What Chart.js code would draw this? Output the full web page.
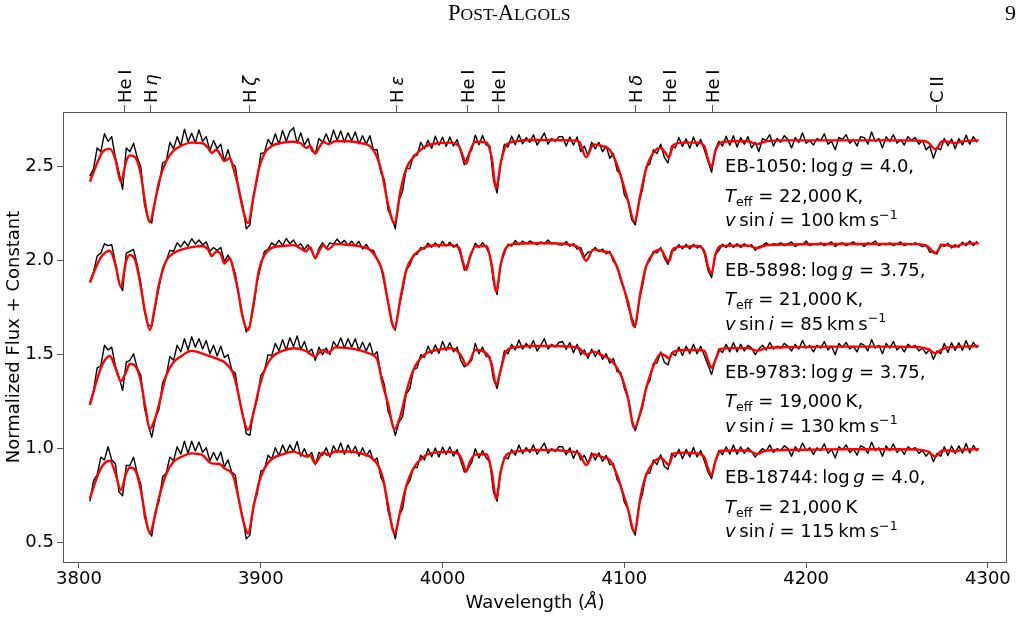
<!DOCTYPE html>
<html><head><meta charset="utf-8">
<script src="https://cdn.jsdelivr.net/npm/chart.js@4.4.1/dist/chart.umd.min.js"></script>
<style>html,body{margin:0;padding:0;background:#fff}canvas{display:block}</style>
</head><body>
<canvas id="c" width="1027" height="641"></canvas>
<script>
// ---------------- data ----------------
const WAVE_OBS = [
3806,3808,3810,3812,3814,3816,3818,3820,3822,3824,
3826,3828,3830,3832,3834,3836,3838,3840,3842,3844,
3846,3848,3850,3852,3854,3856,3858,3860,3862,3864,
3866,3868,3870,3872,3874,3876,3878,3880,3882,3884,
3886,3888,3890,3892,3894,3896,3898,3900,3902,3904,
3906,3908,3910,3912,3914,3916,3918,3920,3922,3924,
3926,3928,3930,3932,3934,3936,3938,3940,3942,3944,
3946,3948,3950,3952,3954,3956,3958,3960,3962,3964,
3966,3968,3970,3972,3974,3976,3978,3980,3982,3984,
3986,3988,3990,3992,3994,3996,3998,4000,4002,4004,
4006,4008,4010,4012,4014,4016,4018,4020,4022,4024,
4026,4028,4030,4032,4034,4036,4038,4040,4042,4044,
4046,4048,4050,4052,4054,4056,4058,4060,4062,4064,
4066,4068,4070,4072,4074,4076,4078,4080,4082,4084,
4086,4088,4090,4092,4094,4096,4098,4100,4102,4104,
4106,4108,4110,4112,4114,4116,4118,4120,4122,4124,
4126,4128,4130,4132,4134,4136,4138,4140,4142,4144,
4146,4148,4150,4152,4154,4156,4158,4160,4162,4164,
4166,4168,4170,4172,4174,4176,4178,4180,4182,4184,
4186,4188,4190,4192,4194,4196,4198,4200,4202,4204,
4206,4208,4210,4212,4214,4216,4218,4220,4222,4224,
4226,4228,4230,4232,4234,4236,4238,4240,4242,4244,
4246,4248,4250,4252,4254,4256,4258,4260,4262,4264,
4266,4268,4270,4272,4274,4276,4278,4280,4282,4284,
4286,4288,4290,4292,4294];

const OBS_EB1050 = [
2.45,2.49,2.60,2.58,2.675,2.635,2.66,2.55,2.47,2.38,
2.60,2.58,2.625,2.55,2.50,2.30,2.22,2.20,2.33,2.40,
2.52,2.53,2.63,2.595,2.66,2.61,2.70,2.633,2.678,2.627,
2.696,2.635,2.66,2.585,2.64,2.595,2.62,2.53,2.59,2.52,
2.50,2.37,2.30,2.17,2.19,2.35,2.43,2.57,2.575,2.645,
2.615,2.675,2.62,2.693,2.635,2.687,2.708,2.625,2.68,2.615,
2.65,2.585,2.57,2.65,2.63,2.675,2.625,2.695,2.64,2.69,
2.63,2.68,2.638,2.685,2.622,2.665,2.62,2.665,2.59,2.59,
2.47,2.43,2.27,2.23,2.17,2.32,2.37,2.49,2.49,2.56,
2.56,2.63,2.595,2.64,2.597,2.662,2.615,2.657,2.608,2.658,
2.61,2.644,2.58,2.51,2.56,2.59,2.668,2.617,2.666,2.615,
2.61,2.43,2.36,2.52,2.62,2.605,2.662,2.617,2.67,2.622,
2.655,2.63,2.67,2.615,2.645,2.68,2.62,2.65,2.635,2.66,
2.66,2.61,2.658,2.615,2.658,2.58,2.61,2.56,2.63,2.595,
2.63,2.58,2.61,2.545,2.57,2.48,2.46,2.35,2.32,2.22,
2.19,2.31,2.38,2.50,2.515,2.59,2.57,2.62,2.55,2.52,
2.61,2.60,2.655,2.608,2.648,2.598,2.658,2.608,2.645,2.59,
2.53,2.47,2.59,2.635,2.61,2.662,2.614,2.665,2.605,2.655,
2.62,2.66,2.60,2.63,2.58,2.65,2.64,2.67,2.61,2.65,
2.63,2.665,2.645,2.60,2.655,2.63,2.68,2.625,2.64,2.615,
2.65,2.64,2.675,2.62,2.635,2.59,2.655,2.645,2.67,2.625,
2.645,2.61,2.66,2.655,2.62,2.685,2.635,2.65,2.60,2.66,
2.635,2.67,2.625,2.645,2.615,2.66,2.64,2.655,2.62,2.64,
2.59,2.61,2.545,2.60,2.59,2.65,2.612,2.648,2.595,2.65,
2.615,2.668,2.62,2.66,2.63];

const OBS_EB5898 = [
1.89,1.94,2.025,2.04,2.09,2.08,2.085,1.99,1.88,1.84,
2.04,2.05,2.06,1.98,1.88,1.73,1.66,1.65,1.76,1.86,
1.96,2.00,2.055,2.05,2.095,2.073,2.103,2.078,2.117,2.089,
2.11,2.085,2.10,2.05,2.07,2.055,2.07,1.995,2.03,1.99,
1.93,1.81,1.71,1.62,1.655,1.75,1.89,1.97,2.05,2.06,
2.095,2.08,2.108,2.081,2.118,2.09,2.11,2.077,2.09,2.06,
2.085,2.05,2.01,2.065,2.095,2.065,2.095,2.088,2.115,2.09,
2.108,2.081,2.103,2.08,2.102,2.062,2.086,2.058,2.055,2.005,
1.975,1.875,1.78,1.67,1.63,1.75,1.84,1.95,1.975,2.03,
2.035,2.07,2.062,2.093,2.072,2.095,2.072,2.103,2.078,2.098,
2.072,2.087,2.03,1.95,1.985,2.04,2.093,2.07,2.096,2.072,
2.03,1.89,1.82,1.985,2.04,2.088,2.078,2.108,2.085,2.105,
2.09,2.105,2.095,2.085,2.10,2.09,2.11,2.09,2.095,2.085,
2.083,2.102,2.077,2.09,2.062,2.07,2.02,2.045,2.048,2.07,
2.048,2.062,2.036,2.05,1.995,1.975,1.895,1.845,1.76,1.70,
1.645,1.78,1.865,1.975,2.00,2.05,2.042,2.07,2.015,1.98,
2.055,2.057,2.085,2.063,2.087,2.062,2.087,2.067,2.08,2.04,
1.95,1.91,2.03,2.055,2.088,2.07,2.095,2.07,2.09,2.07,
2.09,2.075,2.085,2.055,2.075,2.08,2.095,2.08,2.09,2.085,
2.095,2.08,2.09,2.10,2.075,2.09,2.085,2.105,2.08,2.09,
2.085,2.095,2.08,2.09,2.10,2.075,2.09,2.095,2.08,2.09,
2.10,2.085,2.09,2.075,2.095,2.09,2.105,2.08,2.09,2.085,
2.095,2.08,2.09,2.10,2.08,2.09,2.085,2.095,2.085,2.075,
2.085,2.045,2.05,2.035,2.088,2.075,2.092,2.068,2.085,2.072,
2.098,2.08,2.105,2.08,2.103];

const OBS_EB9783 = [
1.24,1.31,1.43,1.44,1.55,1.525,1.54,1.44,1.38,1.31,
1.46,1.47,1.505,1.43,1.39,1.22,1.13,1.06,1.16,1.21,
1.35,1.39,1.49,1.47,1.55,1.515,1.585,1.525,1.595,1.54,
1.585,1.53,1.575,1.505,1.55,1.493,1.545,1.485,1.50,1.42,
1.40,1.27,1.19,1.08,1.07,1.20,1.26,1.39,1.415,1.50,
1.495,1.56,1.52,1.58,1.525,1.59,1.544,1.60,1.527,1.57,
1.51,1.53,1.47,1.54,1.50,1.535,1.50,1.57,1.54,1.59,
1.535,1.585,1.54,1.585,1.522,1.566,1.52,1.563,1.495,1.515,
1.40,1.34,1.20,1.15,1.07,1.14,1.17,1.29,1.32,1.42,
1.43,1.50,1.485,1.545,1.505,1.552,1.507,1.57,1.522,1.564,
1.515,1.54,1.47,1.435,1.45,1.47,1.56,1.505,1.54,1.49,
1.49,1.37,1.32,1.42,1.52,1.505,1.555,1.525,1.578,1.53,
1.56,1.535,1.575,1.52,1.55,1.585,1.53,1.555,1.54,1.565,
1.57,1.528,1.565,1.51,1.555,1.50,1.525,1.48,1.53,1.49,
1.525,1.475,1.505,1.455,1.48,1.41,1.405,1.32,1.27,1.16,
1.095,1.16,1.22,1.33,1.36,1.455,1.455,1.515,1.46,1.445,
1.51,1.495,1.54,1.495,1.545,1.505,1.555,1.505,1.545,1.495,
1.445,1.395,1.47,1.53,1.512,1.555,1.515,1.565,1.515,1.555,
1.52,1.55,1.535,1.50,1.53,1.55,1.525,1.565,1.53,1.545,
1.535,1.56,1.545,1.52,1.555,1.53,1.575,1.535,1.55,1.515,
1.55,1.535,1.57,1.525,1.545,1.50,1.56,1.54,1.565,1.53,
1.545,1.515,1.56,1.55,1.52,1.58,1.535,1.55,1.505,1.56,
1.535,1.57,1.525,1.545,1.515,1.555,1.54,1.55,1.52,1.535,
1.505,1.53,1.475,1.52,1.505,1.56,1.512,1.563,1.523,1.563,
1.524,1.575,1.526,1.566,1.536];

const OBS_EB18744 = [
0.72,0.83,0.86,0.955,0.94,1.01,0.94,0.92,0.77,0.75,
0.91,0.91,0.955,0.87,0.81,0.64,0.57,0.535,0.665,0.72,
0.85,0.87,0.955,0.935,1.01,0.97,1.04,0.975,1.04,0.988,
1.035,0.98,1.005,0.935,0.98,0.938,0.982,0.903,0.94,0.875,
0.86,0.72,0.64,0.52,0.54,0.70,0.76,0.88,0.89,0.965,
0.945,1.005,0.962,1.02,0.975,1.02,0.984,1.038,0.96,1.00,
0.955,0.98,0.915,0.98,0.965,1.005,0.955,1.015,0.98,1.03,
0.97,1.02,0.977,1.013,0.96,1.005,0.96,0.992,0.935,0.95,
0.85,0.81,0.67,0.60,0.52,0.64,0.68,0.80,0.83,0.90,
0.90,0.965,0.94,1.00,0.957,1.003,0.956,1.008,0.969,1.01,
0.96,0.995,0.935,0.875,0.895,0.925,1.00,0.95,0.99,0.95,
0.93,0.77,0.72,0.88,0.955,0.945,0.995,0.965,1.02,0.973,
1.005,0.98,1.02,0.97,1.00,1.03,0.975,1.00,0.985,1.01,
1.01,0.967,1.004,0.948,0.992,0.94,0.965,0.92,0.978,0.94,
0.978,0.932,0.965,0.915,0.92,0.835,0.805,0.715,0.68,0.58,
0.54,0.70,0.76,0.87,0.87,0.94,0.915,0.968,0.905,0.89,
0.975,0.956,0.997,0.946,0.996,0.956,1.006,0.956,0.99,0.935,
0.875,0.84,0.935,0.99,0.969,1.01,0.97,1.02,0.97,1.01,
0.975,1.005,0.985,0.955,0.98,1.00,0.985,1.02,0.98,1.00,
0.99,1.015,1.00,0.96,1.01,0.985,1.03,0.99,1.005,0.97,
1.005,0.99,1.025,0.975,0.995,0.95,1.01,0.995,1.02,0.98,
1.00,0.965,1.015,1.005,0.975,1.035,0.99,1.005,0.96,1.015,
0.99,1.025,0.98,1.00,0.97,1.01,0.995,1.005,0.975,0.99,
0.96,0.985,0.93,0.975,0.96,1.01,0.963,1.014,0.974,1.015,
0.976,1.027,0.977,1.017,0.987];

const WAVE_MODEL = [
3806,3810,3813,3817,3820,3823,3826,3828,3831,3834,
3836.5,3839,3841.5,3844,3848,3852,3856,3862,3868,3871,
3873,3875.5,3878,3880,3883,3885,3887.5,3890,3893,3896,
3899,3902,3906,3912,3918,3922,3925,3927,3930,3932,
3934.5,3937,3941,3948,3955,3960,3964,3967,3970,3973.5,
3977,3980,3984,3990,3997,4004,4009,4011,4013,4015,
4018,4024,4027,4029.5,4032,4035,4040,4050,4060,4070,
4075,4079,4083,4088,4092,4096,4099,4102,4105.5,4109,
4112,4116,4120,4122.5,4124.5,4127,4133,4140,4144,4146,
4148,4150,4153,4160,4168,4173,4178,4190,4210,4230,
4250,4262,4267,4271,4275,4279,4282,4286,4295];

const MODEL_EB1050 = [
2.42,2.52,2.58,2.595,2.54,2.42,2.53,2.56,2.55,2.46,
2.30,2.205,2.30,2.42,2.53,2.585,2.61,2.628,2.625,2.60,
2.573,2.59,2.56,2.53,2.546,2.49,2.40,2.28,2.20,2.34,
2.49,2.57,2.61,2.628,2.633,2.625,2.60,2.61,2.57,2.60,
2.633,2.62,2.635,2.635,2.625,2.61,2.55,2.45,2.30,2.20,
2.38,2.49,2.55,2.605,2.625,2.628,2.61,2.56,2.515,2.58,
2.633,2.63,2.55,2.385,2.52,2.615,2.635,2.642,2.642,2.64,
2.635,2.55,2.618,2.61,2.589,2.51,2.42,2.32,2.207,2.36,
2.49,2.575,2.60,2.575,2.55,2.615,2.628,2.628,2.61,2.54,
2.50,2.58,2.628,2.635,2.635,2.62,2.635,2.64,2.64,2.64,
2.64,2.638,2.63,2.593,2.635,2.632,2.625,2.635,2.64];

const MODEL_EB5898 = [
1.883,1.98,2.03,2.053,1.98,1.862,2.00,2.03,2.00,1.86,
1.72,1.631,1.74,1.875,2.00,2.04,2.058,2.072,2.078,2.06,
2.025,2.048,2.035,1.985,2.013,1.95,1.84,1.70,1.631,1.77,
1.95,2.03,2.068,2.078,2.083,2.065,2.05,2.073,2.015,2.05,
2.083,2.06,2.088,2.085,2.075,2.058,2.01,1.94,1.78,1.64,
1.81,1.95,2.025,2.07,2.082,2.083,2.07,2.00,1.95,2.02,
2.075,2.078,1.98,1.836,1.98,2.07,2.09,2.093,2.093,2.085,
2.068,2.00,2.06,2.05,2.04,1.965,1.875,1.78,1.649,1.84,
1.97,2.04,2.06,2.02,1.995,2.065,2.075,2.078,2.05,1.97,
1.933,2.03,2.078,2.08,2.08,2.066,2.082,2.086,2.089,2.089,
2.089,2.088,2.075,2.04,2.085,2.08,2.075,2.088,2.093];

const MODEL_EB9783 = [
1.232,1.37,1.45,1.493,1.43,1.36,1.41,1.452,1.44,1.36,
1.22,1.105,1.15,1.235,1.39,1.46,1.49,1.52,1.506,1.495,
1.488,1.48,1.47,1.46,1.43,1.395,1.30,1.18,1.10,1.19,
1.32,1.415,1.485,1.52,1.534,1.528,1.518,1.505,1.489,1.51,
1.525,1.51,1.539,1.535,1.522,1.505,1.475,1.345,1.24,1.105,
1.18,1.30,1.42,1.50,1.525,1.534,1.51,1.48,1.445,1.465,
1.525,1.508,1.45,1.34,1.42,1.52,1.54,1.546,1.546,1.543,
1.535,1.50,1.516,1.495,1.475,1.43,1.37,1.27,1.11,1.20,
1.32,1.44,1.505,1.495,1.48,1.515,1.525,1.525,1.52,1.47,
1.43,1.47,1.53,1.535,1.535,1.521,1.535,1.54,1.543,1.543,
1.543,1.54,1.53,1.508,1.53,1.54,1.54,1.543,1.546];

const MODEL_EB18744 = [
0.736,0.85,0.91,0.936,0.87,0.78,0.87,0.90,0.885,0.78,
0.64,0.55,0.63,0.74,0.865,0.93,0.955,0.975,0.966,0.935,
0.922,0.92,0.915,0.895,0.88,0.85,0.75,0.63,0.55,0.69,
0.82,0.895,0.945,0.97,0.984,0.97,0.958,0.966,0.922,0.95,
0.98,0.966,0.985,0.985,0.975,0.958,0.92,0.85,0.70,0.55,
0.68,0.80,0.895,0.96,0.98,0.982,0.97,0.93,0.878,0.93,
0.968,0.97,0.88,0.736,0.88,0.965,0.984,0.993,0.993,0.985,
0.975,0.913,0.97,0.955,0.94,0.86,0.77,0.68,0.559,0.75,
0.86,0.925,0.952,0.93,0.913,0.975,0.978,0.975,0.955,0.895,
0.86,0.93,0.989,0.99,0.99,0.972,0.99,0.993,0.996,0.997,
0.997,0.995,0.985,0.958,0.99,0.99,0.985,0.995,0.997];

const LINE_WAVES = [3824.8,3839.5,3893.6,3974.7,4013.5,4030.6,4106.0,4124.6,4148.4,4271.9];
const LINE_ELEMENT = ['He','H','H','H','He','He','H','He','He','C'];
const LINE_SUFFIX = ['I','\u03B7','\u03B6','\u03B5','I','I','\u03B4','I','I','II'];
const LINE_SUFFIX_ITALIC = [false,true,true,true,false,false,true,false,false,false];
const X_TICKS = [3800,3900,4000,4100,4200,4300];
const Y_TICKS = [0.5,1.0,1.5,2.0,2.5];

const STAR_NAMES = ['EB-1050','EB-5898','EB-9783','EB-18744'];
const LOGG = ['4.0','3.75','3.75','4.0'];
const TEFF = ['22,000','21,000','19,000','21,000'];
const TEFF_END = [',',',',',',''];
const VSINI = ['100','85','130','115'];

// ---------------- layout / style ----------------
const FONT = "'DejaVu Sans', sans-serif";
const AXIS_COLOR = '#555';
const X_MIN = 3791.2, X_MAX = 4310.5, Y_MIN = 0.397, Y_MAX = 2.791;
const ANNOT_X = 4155.4;
const ANNOT_Y = [2.470, 1.919, 1.378, 0.816];
const ANNOT_LINE_DY = [0, 29.5, 54];

function pts(xs, ys) { return xs.map((x, i) => ({ x: x, y: ys[i] })); }

const OBS = [OBS_EB1050, OBS_EB5898, OBS_EB9783, OBS_EB18744];
const MODELS = [MODEL_EB1050, MODEL_EB5898, MODEL_EB9783, MODEL_EB18744];
const datasets = [];
for (let i = 0; i < 4; i++) {
  datasets.push({ label: STAR_NAMES[i] + ' observed', data: pts(WAVE_OBS, OBS[i]),
    borderColor: '#000', borderWidth: 1.4, pointRadius: 0, tension: 0, order: 1, xAxisID: 'x', yAxisID: 'y' });
  datasets.push({ label: STAR_NAMES[i] + ' model', data: pts(WAVE_MODEL, MODELS[i]),
    borderColor: '#ff0000', borderWidth: 2.4, pointRadius: 0, cubicInterpolationMode: 'monotone', order: 0, xAxisID: 'x', yAxisID: 'y' });
}

function drawRich(ctx, x, y, segs, size, align) {
  let total = 0;
  for (const s of segs) {
    ctx.font = (s.it ? 'italic ' : '') + (size * (s.scale || 1)) + 'px ' + (s.family || FONT);
    total += ctx.measureText(s.t).width;
  }
  let cx = align === 'center' ? x - total / 2 : (align === 'right' ? x - total : x);
  ctx.textAlign = 'left';
  ctx.textBaseline = 'alphabetic';
  for (const s of segs) {
    ctx.font = (s.it ? 'italic ' : '') + (size * (s.scale || 1)) + 'px ' + (s.family || FONT);
    ctx.fillText(s.t, cx, y + (s.dy || 0));
    cx += ctx.measureText(s.t).width;
  }
}

const decor = {
  id: 'decor',
  afterDraw(chart) {
    const { ctx, chartArea: a, scales } = chart;
    ctx.save();
    // frame
    ctx.strokeStyle = AXIS_COLOR; ctx.lineWidth = 1;
    ctx.strokeRect(Math.round(a.left) + 0.5, Math.round(a.top) + 0.5,
      Math.round(a.right) - Math.round(a.left) - 1, Math.round(a.bottom) - Math.round(a.top));
    ctx.fillStyle = '#000';
    // spectral line labels on the top axis
    for (let i = 0; i < LINE_WAVES.length; i++) {
      const px = scales.xTop.getPixelForValue(LINE_WAVES[i]);
      ctx.save();
      ctx.translate(px, a.top - 9);
      ctx.rotate(-Math.PI / 2);
      drawRich(ctx, 0, 6.5, [
        { t: LINE_ELEMENT[i] + '\u2009' }, { t: LINE_SUFFIX[i], it: LINE_SUFFIX_ITALIC[i] }], 18);
      ctx.restore();
    }
    // annotations
    const xs = scales.x.getPixelForValue(ANNOT_X);
    for (let i = 0; i < 4; i++) {
      const y0 = scales.y.getPixelForValue(ANNOT_Y[i]);
      drawRich(ctx, xs, y0 + ANNOT_LINE_DY[0], [
        { t: STAR_NAMES[i] + ':\u2009log\u2009' }, { t: 'g', it: true }, { t: ' = ' + LOGG[i] + ',' }], 18);
      drawRich(ctx, xs, y0 + ANNOT_LINE_DY[1], [
        { t: 'T', it: true }, { t: 'eff', scale: 0.7, dy: 4 }, { t: ' = ' + TEFF[i] + '\u2009K' + TEFF_END[i] }], 18);
      drawRich(ctx, xs, y0 + ANNOT_LINE_DY[2], [
        { t: 'v', it: true }, { t: '\u2009sin\u2009' }, { t: 'i', it: true },
        { t: ' = ' + VSINI[i] + '\u2009km\u2009s' }, { t: '\u22121', scale: 0.7, dy: -7.5 }], 18);
    }
    // x-axis title
    drawRich(ctx, (a.left + a.right) / 2, 608, [
      { t: 'Wavelength (' }, { t: '\u00C5', it: true }, { t: ')' }], 18, 'center');
    // page header
    const serif = "'Liberation Serif', serif";
    drawRich(ctx, 448, 20, [
      { t: 'P', family: serif }, { t: 'OST-', scale: 0.78, family: serif },
      { t: 'A', family: serif }, { t: 'LGOLS', scale: 0.78, family: serif }], 22.5);
    drawRich(ctx, 1016, 20, [{ t: '9', family: serif }], 22, 'right');
    ctx.restore();
  }
};

Chart.defaults.font.family = FONT;
Chart.defaults.color = '#000';

new Chart(document.getElementById('c'), {
  type: 'line',
  data: { datasets: datasets },
  plugins: [decor],
  options: {
    responsive: false, animation: false, devicePixelRatio: 1,
    layout: { padding: { left: 0, right: 20, top: 0, bottom: 0 } },
    plugins: { legend: { display: false }, tooltip: { enabled: false } },
    elements: { line: { borderJoinStyle: 'round' } },
    scales: {
      x: {
        type: 'linear', position: 'bottom', min: X_MIN, max: X_MAX,
        afterBuildTicks: s => { s.ticks = X_TICKS.map(v => ({ value: v })); },
        afterFit: s => { s.height = 79; },
        ticks: { callback: v => String(v), font: { size: 18 }, padding: 1, maxRotation: 0, autoSkip: false, color: '#000' },
        grid: { drawOnChartArea: false, tickLength: 6, color: AXIS_COLOR },
        border: { display: false },
        title: { display: false }
      },
      xTop: {
        type: 'linear', position: 'top', min: X_MIN, max: X_MAX,
        afterBuildTicks: s => { s.ticks = LINE_WAVES.map(v => ({ value: v })); },
        afterFit: s => { s.height = 112; },
        ticks: { display: false, autoSkip: false },
        grid: { drawOnChartArea: false, tickLength: 7, color: AXIS_COLOR },
        border: { display: false }
      },
      y: {
        type: 'linear', position: 'left', min: Y_MIN, max: Y_MAX,
        afterBuildTicks: s => { s.ticks = Y_TICKS.map(v => ({ value: v })); },
        afterFit: s => { s.width = 63; },
        ticks: { callback: v => v.toFixed(1), font: { size: 18 }, padding: 3, color: '#000' },
        grid: { drawOnChartArea: false, tickLength: 6, color: AXIS_COLOR },
        border: { display: false },
        title: { display: true, text: 'Normalized Flux + Constant', font: { size: 18 }, color: '#000', padding: { top: 4, bottom: 0 } }
      }
    }
  }
});
</script>
</body></html>
